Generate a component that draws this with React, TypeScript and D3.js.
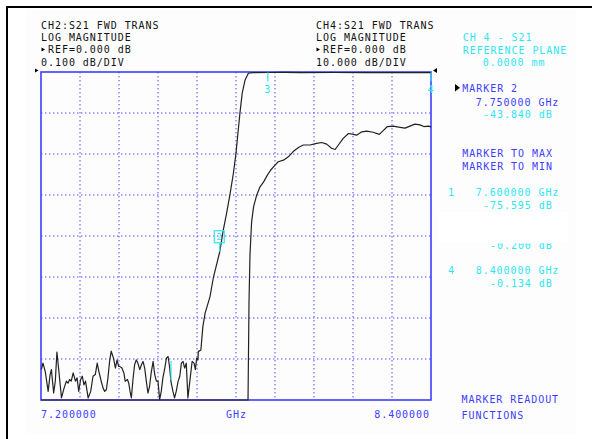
import React from "react";
import * as d3 from "d3";

// ---- data ----
const freqDomain: [number, number] = [7.2, 8.4];
const ch4Domain: [number, number] = [-80, 0]; // 10 dB/div, ref 0 dB
const ch2Domain: [number, number] = [-0.8, 0]; // 0.1 dB/div, ref 0 dB
const xDivisions = 10;
const yDivisions = 8;

// CH4 S21 (10 dB/div): [GHz, dB]
const ch4Trace: [number, number][] = [
  [7.201, -72.6], [7.206, -71.0], [7.213, -73.0], [7.222, -77.9], [7.228, -73.8], [7.232, -72.6],
  [7.239, -78.3], [7.244, -75.4], [7.249, -68.3], [7.254, -72.2], [7.263, -79.5], [7.271, -77.1],
  [7.278, -75.4], [7.283, -75.9], [7.288, -75.0], [7.293, -75.4], [7.299, -73.4], [7.306, -75.4],
  [7.311, -74.6], [7.316, -77.9], [7.322, -75.0], [7.327, -74.2], [7.332, -76.3], [7.337, -75.4],
  [7.345, -79.5], [7.353, -77.9], [7.360, -74.2], [7.367, -73.8], [7.373, -71.0], [7.378, -73.0],
  [7.384, -75.0], [7.391, -77.1], [7.396, -77.9], [7.401, -77.5], [7.406, -74.6], [7.411, -70.6],
  [7.416, -68.1], [7.423, -69.8], [7.429, -72.2], [7.434, -70.2], [7.439, -71.8], [7.442, -71.8],
  [7.449, -72.2], [7.455, -73.4], [7.459, -75.4], [7.466, -75.0], [7.470, -75.9], [7.474, -77.9],
  [7.478, -79.5], [7.483, -75.0], [7.488, -71.4], [7.493, -70.2], [7.498, -71.0], [7.504, -72.6],
  [7.509, -71.4], [7.514, -70.6], [7.519, -72.2], [7.524, -75.4], [7.529, -78.3], [7.534, -76.7],
  [7.539, -73.4], [7.545, -70.6], [7.550, -73.8], [7.555, -75.4], [7.560, -75.4], [7.565, -79.9],
  [7.570, -77.9], [7.575, -74.6], [7.581, -72.2], [7.586, -69.8], [7.591, -69.4], [7.596, -72.2],
  [7.600, -75.6], [7.606, -77.9], [7.611, -79.5], [7.616, -77.9], [7.622, -75.4], [7.627, -74.2],
  [7.632, -71.0], [7.637, -70.6], [7.642, -72.2], [7.647, -71.0], [7.652, -79.5], [7.658, -75.4],
  [7.665, -70.6], [7.671, -71.0], [7.675, -72.6], [7.679, -69.8], [7.683, -70.2], [7.684, -68.2],
  [7.692, -67.8], [7.698, -62.1], [7.705, -58.8], [7.720, -54.8], [7.730, -50.3], [7.750, -43.84],
  [7.761, -38.5], [7.771, -34.5], [7.782, -29.6], [7.792, -24.7], [7.800, -19.8], [7.807, -14.1],
  [7.812, -10.1], [7.819, -5.2], [7.828, -1.95], [7.838, -0.3], [7.850, -0.15], [7.900, -0.12],
  [7.950, -0.1], [8.000, -0.15], [8.100, -0.12], [8.200, -0.14], [8.300, -0.13], [8.400, -0.134],
];

// CH2 S21 (0.1 dB/div): [GHz, dB]  (stop band is below the screen)
const ch2Trace: [number, number][] = [
  [7.2, -1.5], [7.837, -1.5], [7.840, -0.563], [7.843, -0.446], [7.848, -0.366], [7.854, -0.329],
  [7.863, -0.302], [7.874, -0.280], [7.885, -0.268], [7.897, -0.251], [7.907, -0.239], [7.920, -0.227],
  [7.930, -0.219], [7.946, -0.215], [7.961, -0.207], [7.976, -0.194], [7.992, -0.184], [8.007, -0.178],
  [8.028, -0.178], [8.048, -0.174], [8.064, -0.172], [8.079, -0.176], [8.094, -0.186], [8.105, -0.189],
  [8.115, -0.178], [8.130, -0.162], [8.146, -0.150], [8.161, -0.152], [8.171, -0.154], [8.187, -0.146],
  [8.202, -0.144], [8.222, -0.147], [8.241, -0.152], [8.253, -0.143], [8.266, -0.133], [8.284, -0.132],
  [8.305, -0.135], [8.320, -0.137], [8.335, -0.132], [8.351, -0.127], [8.366, -0.129], [8.378, -0.133],
  [8.392, -0.132], [8.400, -0.134],
];

const markerIds = [1, 2, 3, 4];
const markerFreqs = [7.6, 7.75, 7.898, 8.4];
const markerDbs = [-75.595, -43.84, -0.1, -0.134];

const ch2Header = ["CH2:S21 FWD TRANS", "LOG MAGNITUDE", "REF=0.000 dB", "0.100 dB/DIV"];
const ch4Header = ["CH4:S21 FWD TRANS", "LOG MAGNITUDE", "REF=0.000 dB", "10.000 dB/DIV"];
const startLabel = "7.200000";
const stopLabel = "8.400000";
const unitLabel = "GHz";

// ---- styles ----
const BLUE = "#3d3dff";
const CYAN = "#2fe6f3";
const BLACK = "#111";
const FONT = "'DejaVu Sans Mono', monospace";

export default function App() {
  const W = 592, H = 439;
  const L = 41, R = 431, T = 72, B = 400;
  const x = d3.scaleLinear().domain(freqDomain).range([L, R]);
  const y4 = d3.scaleLinear().domain(ch4Domain).range([B, T]).clamp(true);
  const y2 = d3.scaleLinear().domain(ch2Domain).range([B, T]).clamp(true);

  const line4 = d3.line<[number, number]>().x((d) => x(d[0])).y((d) => y4(d[1]));
  const line2 = d3.line<[number, number]>().x((d) => x(d[0])).y((d) => y2(d[1]));

  const xGrid = d3.range(1, xDivisions).map((i) => x(freqDomain[0] + (i * (freqDomain[1] - freqDomain[0])) / xDivisions));
  const yGrid = d3.range(1, yDivisions).map((i) => y4(ch4Domain[0] + (i * (ch4Domain[1] - ch4Domain[0])) / yDivisions));

  const txt = { fontFamily: FONT, fontSize: 10, letterSpacing: 0.95 } as React.CSSProperties;

  const mk = markerIds.map((id, i) => ({ id, px: x(markerFreqs[i]), py: y4(markerDbs[i]) }));

  return (
    <svg width={W} height={H} style={{ position: "absolute", left: 0, top: 0, display: "block", background: "#fff" }}>
      <rect x={26} y={9} width={550} height={426} fill="#fdfdfd" />
      {/* outer frame */}
      <line x1={7} y1={7} x2={W} y2={7} stroke="#000" strokeWidth={2} />
      <line x1={7} y1={6} x2={7} y2={H} stroke="#000" strokeWidth={2} />

      {/* grid */}
      {xGrid.map((gx, i) => (
        <line key={"gx" + i} x1={gx} x2={gx} y1={T} y2={B} stroke="#4848ff" strokeWidth={1} strokeDasharray="1.4,2.6" />
      ))}
      {yGrid.map((gy, i) => (
        <line key={"gy" + i} x1={L} x2={R} y1={gy} y2={gy} stroke="#4848ff" strokeWidth={1} strokeDasharray="1.4,2.6" />
      ))}
      <rect x={L} y={T} width={R - L} height={B - T} fill="none" stroke={BLUE} strokeWidth={1.6} />

      {/* traces */}
      <path d={line2(ch2Trace) || ""} fill="none" stroke="#222" strokeWidth={1.2} strokeLinejoin="round" />
      <path d={line4(ch4Trace) || ""} fill="none" stroke="#222" strokeWidth={1.2} strokeLinejoin="round" />

      {/* reference arrows */}
      <path d={`M${L - 6},${T - 3.5} L${L - 2.5},${T - 1.5} L${L - 6},${T + 0.5} Z`} fill="#000" />
      <path d={`M${R + 6},${T - 4} L${R + 2},${T - 1.5} L${R + 6},${T + 1} Z`} fill="#000" />

      {/* markers */}
      {mk.map((m) => {
        if (m.id === 1) {
          return <line key="m1" x1={m.px} x2={m.px} y1={m.py - 21} y2={m.py - 2} stroke={CYAN} strokeWidth={1.2} />;
        }
        if (m.id === 2) {
          return (
            <g key="m2">
              <line x1={m.px} x2={m.px} y1={m.py - 9} y2={m.py} stroke={CYAN} strokeWidth={1.2} />
              <rect x={m.px - 5.5} y={m.py - 21} width={10} height={12} fill="none" stroke={CYAN} strokeWidth={1.2} />
              <text x={m.px - 0.5} y={m.py - 11.5} textAnchor="middle" fill={CYAN} style={{ fontFamily: FONT, fontSize: 9 }}>2</text>
            </g>
          );
        }
        return (
          <g key={"m" + m.id}>
            <line x1={m.px} x2={m.px} y1={m.py} y2={m.py + 9} stroke={CYAN} strokeWidth={1.2} />
            <text x={m.px} y={m.py + 20.5} textAnchor="middle" fill={CYAN} style={txt}>{String(m.id)}</text>
          </g>
        );
      })}

      {/* headers */}
      {ch2Header.map((s, i) => (
        <text key={"h2" + i} x={i === 2 ? 48 : 41} y={29 + i * 12.2} fill={BLACK} style={txt}>{s}</text>
      ))}
      <path d="M41.5,47.5 L45,49.5 L41.5,51.5 Z" fill="#000" />
      {ch4Header.map((s, i) => (
        <text key={"h4" + i} x={i === 2 ? 323 : 316} y={29 + i * 12.2} fill={BLACK} style={txt}>{s}</text>
      ))}
      <path d="M316.5,47.5 L320,49.5 L316.5,51.5 Z" fill="#000" />

      <text x={462.7} y={41} fill={CYAN} style={txt}>CH 4 - S21</text>
      <text x={462.7} y={53.5} fill={CYAN} style={txt}>REFERENCE PLANE</text>
      <text x={482.7} y={66} fill={CYAN} style={txt}>0.0000 mm</text>

      {/* right panel */}
      <path d="M455,84 L460,87.8 L455,91.6 Z" fill="#000" />
      <text x={462.3} y={91.7} fill={BLUE} style={txt}>MARKER 2</text>
      <text x={475.7} y={106} fill={BLUE} style={txt}>7.750000 GHz</text>
      <text x={483} y={117.5} fill={CYAN} style={txt}>-43.840 dB</text>
      <text x={462.3} y={156.7} fill={BLUE} style={txt}>MARKER TO MAX</text>
      <text x={462.3} y={170} fill={BLUE} style={txt}>MARKER TO MIN</text>
      <text x={448} y={196} fill={CYAN} style={txt}>1</text>
      <text x={475.7} y={196} fill={CYAN} style={txt}>7.600000 GHz</text>
      <text x={483} y={209.3} fill={CYAN} style={txt}>-75.595 dB</text>
      <text x={490} y={248.5} fill={CYAN} style={txt}>-0.200 dB</text>
      <rect x={438} y={212} width={130} height={31.3} fill="#fff" />
      <text x={448} y={274} fill={CYAN} style={txt}>4</text>
      <text x={475.7} y={274} fill={CYAN} style={txt}>8.400000 GHz</text>
      <text x={490} y={286.7} fill={CYAN} style={txt}>-0.134 dB</text>

      {/* bottom labels */}
      <text x={L} y={418} fill={BLUE} style={txt}>{startLabel}</text>
      <text x={226} y={418} fill={BLUE} style={txt}>{unitLabel}</text>
      <text x={R - 1} y={418} textAnchor="end" fill={BLUE} style={txt}>{stopLabel}</text>
      <text x={461.5} y={403} fill={BLUE} style={txt}>MARKER READOUT</text>
      <text x={461.5} y={418.5} fill={BLUE} style={txt}>FUNCTIONS</text>
    </svg>
  );
}
